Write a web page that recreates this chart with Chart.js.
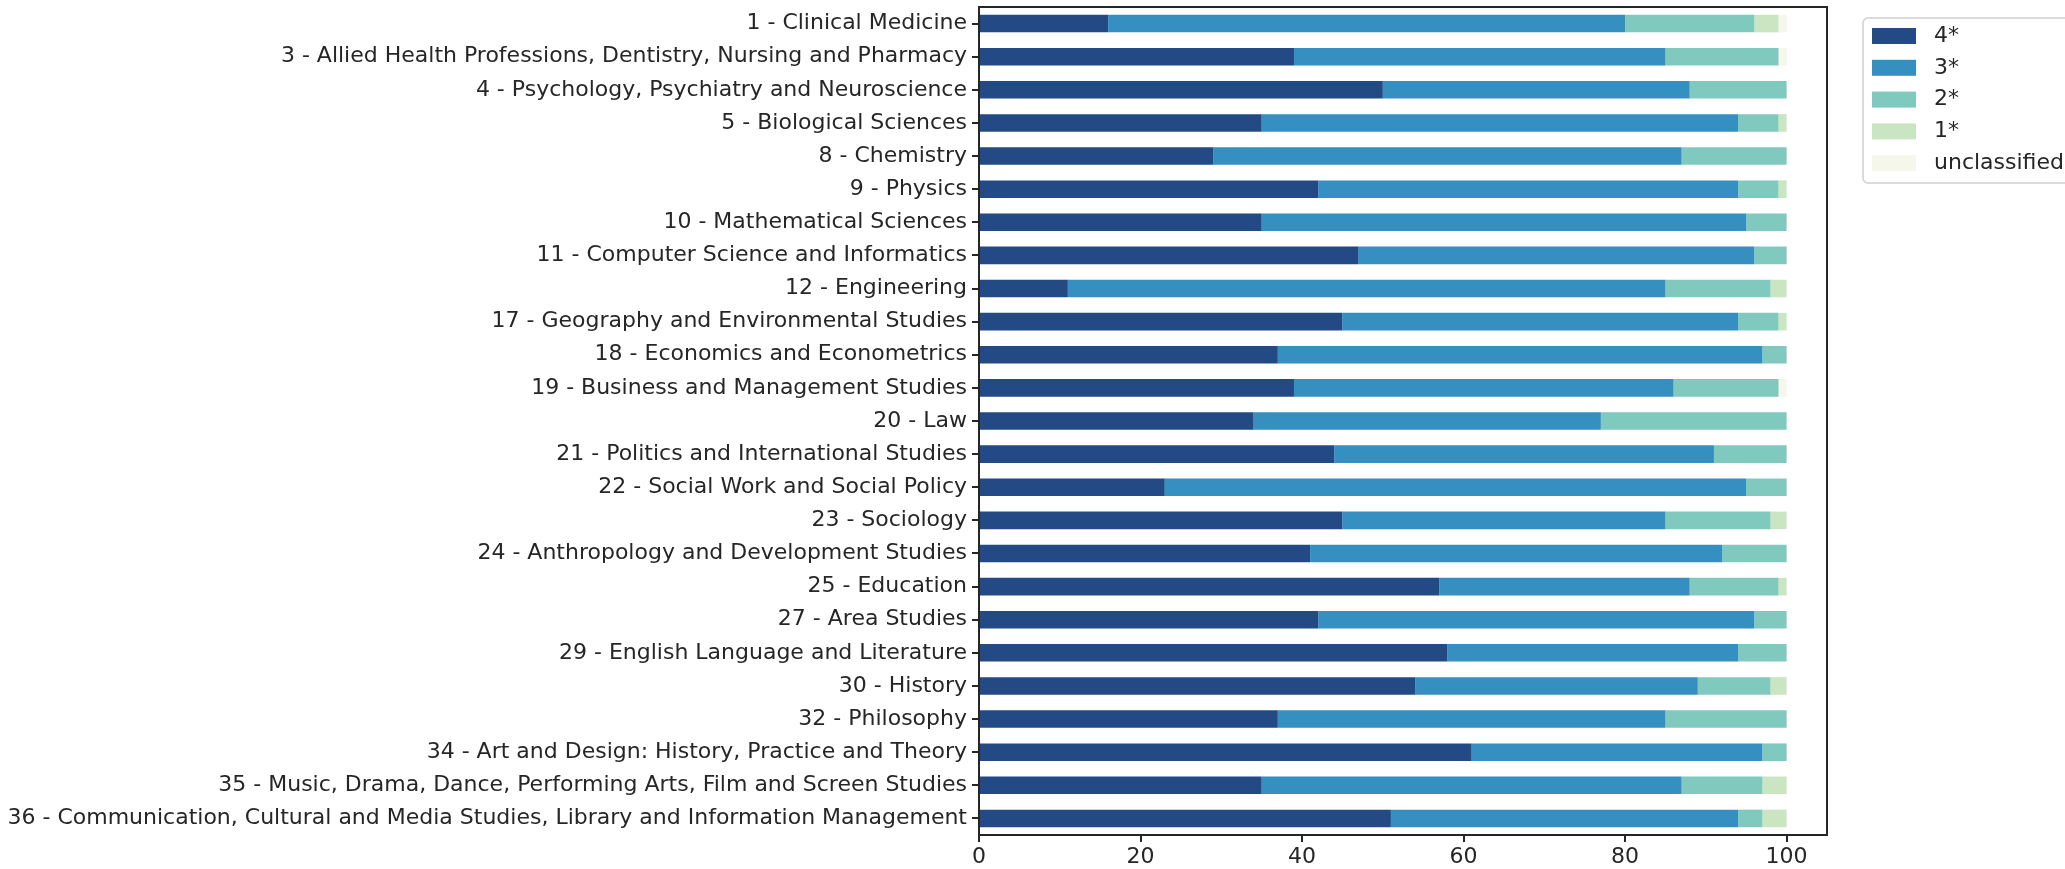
<!DOCTYPE html>
<html>
<head>
<meta charset="utf-8">
<script src="https://cdn.jsdelivr.net/npm/chart.js@4.4.0/dist/chart.umd.min.js"></script>
<style>
body { margin: 0; background: #fff; }
#wrap { width: 2065px; height: 869px; position: relative; }
</style>
</head>
<body>
<div id="wrap"><canvas id="cht-ref"></canvas></div>
<script>
var categories = [
    '1 - Clinical Medicine',
    '3 - Allied Health Professions, Dentistry, Nursing and Pharmacy',
    '4 - Psychology, Psychiatry and Neuroscience',
    '5 - Biological Sciences',
    '8 - Chemistry',
    '9 - Physics',
    '10 - Mathematical Sciences',
    '11 - Computer Science and Informatics',
    '12 - Engineering',
    '17 - Geography and Environmental Studies',
    '18 - Economics and Econometrics',
    '19 - Business and Management Studies',
    '20 - Law',
    '21 - Politics and International Studies',
    '22 - Social Work and Social Policy',
    '23 - Sociology',
    '24 - Anthropology and Development Studies',
    '25 - Education',
    '27 - Area Studies',
    '29 - English Language and Literature',
    '30 - History',
    '32 - Philosophy',
    '34 - Art and Design: History, Practice and Theory',
    '35 - Music, Drama, Dance, Performing Arts, Film and Screen Studies',
    '36 - Communication, Cultural and Media Studies, Library and Information Management'
];
var star4 = [16, 39, 50, 35, 29, 42, 35, 47, 11, 45, 37, 39, 34, 44, 23, 45, 41, 57, 42, 58, 54, 37, 61, 35, 51];
var star3 = [64, 46, 38, 59, 58, 52, 60, 49, 74, 49, 60, 47, 43, 47, 72, 40, 51, 31, 54, 36, 35, 48, 36, 52, 43];
var star2 = [16, 14, 12, 5, 13, 5, 5, 4, 13, 5, 3, 13, 23, 9, 5, 13, 8, 11, 4, 6, 9, 15, 3, 10, 3];
var star1 = [3, 0, 0, 1, 0, 1, 0, 0, 2, 1, 0, 0, 0, 0, 0, 2, 0, 1, 0, 0, 2, 0, 0, 3, 3];
var unclassified = [1, 1, 0, 0, 0, 0, 0, 0, 0, 0, 0, 1, 0, 0, 0, 0, 0, 0, 0, 0, 0, 0, 0, 0, 0];
var seriesLabels = ['4*', '3*', '2*', '1*', 'unclassified'];
var xTicks = [0, 20, 40, 60, 80, 100];

var colours = ['#234a85', '#3590c1', '#80c9bf', '#c9e5c2', '#f4f7ea'];
var ink = '#262626';
var font = { family: '"DejaVu Sans"', size: 22 };

// matplotlib style frame: top and right spines
var frame = {
    id: 'frame',
    afterDatasetsDraw: function (chart) {
        var a = chart.chartArea, ctx = chart.ctx;
        ctx.save();
        ctx.strokeStyle = ink;
        ctx.lineWidth = 2;
        ctx.beginPath();
        ctx.moveTo(a.left, a.top);
        ctx.lineTo(a.right, a.top);
        ctx.lineTo(a.right, a.bottom);
        ctx.stroke();
        ctx.restore();
    }
};

// legend box outside the axes, like bbox_to_anchor
var legendBox = {
    id: 'legendBox',
    afterDraw: function (chart) {
        var ctx = chart.ctx, x = 1863, y = 18;
        ctx.save();
        ctx.fillStyle = 'rgba(255,255,255,0.8)';
        ctx.strokeStyle = '#d0d0d0';
        ctx.lineWidth = 1.5;
        ctx.beginPath();
        ctx.roundRect(x, y, 230, 165, 5);
        ctx.fill();
        ctx.stroke();
        ctx.font = font.size + 'px ' + font.family;
        ctx.textBaseline = 'middle';
        chart.data.datasets.forEach(function (ds, i) {
            var cy = 36 + i * 31.8;
            ctx.fillStyle = ds.backgroundColor;
            ctx.fillRect(x + 9, cy - 8, 44, 16);
            ctx.fillStyle = ink;
            ctx.fillText(ds.label, x + 71, cy);
        });
        ctx.restore();
    }
};

var values = [star4, star3, star2, star1, unclassified];
var datasets = values.map(function (v, i) {
    return {
        label: seriesLabels[i],
        data: v,
        backgroundColor: colours[i],
        borderWidth: 0,
        barPercentage: 0.53,
        categoryPercentage: 1
    };
});

new Chart(document.getElementById('cht-ref'), {
    type: 'bar',
    data: { labels: categories, datasets: datasets },
    plugins: [frame, legendBox],
    options: {
        indexAxis: 'y',
        responsive: true,
        maintainAspectRatio: false,
        animation: false,
        layout: { padding: { top: 7, right: 238, bottom: 0, left: 0 } },
        plugins: { legend: { display: false }, tooltip: { enabled: false } },
        scales: {
            x: {
                stacked: true,
                min: 0,
                max: 105,
                afterBuildTicks: function (scale) {
                    scale.ticks = xTicks.map(function (v) { return { value: v }; });
                },
                afterFit: function (scale) {
                    scale.height = 34;
                    scale.paddingLeft = 0;
                    scale.paddingRight = 0;
                },
                border: { display: true, color: ink, width: 2 },
                grid: { drawOnChartArea: false, drawTicks: true, tickLength: 7, color: ink, lineWidth: 2 },
                ticks: { color: ink, font: font, padding: 2, maxRotation: 0 }
            },
            y: {
                stacked: true,
                afterFit: function (scale) {
                    scale.width = 979;
                    scale.paddingTop = 0;
                    scale.paddingBottom = 0;
                },
                border: { display: true, color: ink, width: 2 },
                grid: { drawOnChartArea: false, drawTicks: true, tickLength: 7, color: ink, lineWidth: 2, offset: false },
                ticks: { color: ink, font: font, padding: 5, autoSkip: false }
            }
        }
    }
});
</script>
</body>
</html>
